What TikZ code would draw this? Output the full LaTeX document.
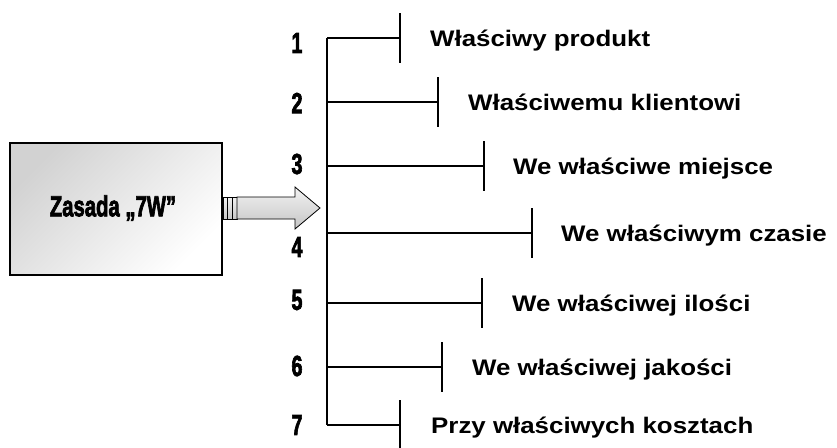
\documentclass[tikz,border=0pt]{standalone}
\usepackage{fontspec}
\setmainfont{Liberation Sans}
\newfontfamily\heavyfont[FakeBold=3]{Liberation Sans Bold}
\usepackage{graphicx}
\begin{document}
\begin{tikzpicture}[x=1pt,y=-1pt,
  conn/.style={line width=1.4pt, black},
  lbl/.style={anchor=base west, inner sep=0pt, font=\fontsize{22.5}{24}\selectfont\bfseries},
  num/.style={anchor=center, inner sep=0pt, font=\fontsize{29}{29}\selectfont\heavyfont},
  arrowfill/.style={draw=black, line width=0.8pt, top color=gray!10, bottom color=gray!45}]
\path[use as bounding box] (0,0) rectangle (837,447);
\clip (0,0) rectangle (837,447);
% source box
\node[draw, line width=2pt, minimum width=212pt, minimum height=132pt,
      top color=gray!35, bottom color=white, shading angle=45,
      inner sep=0pt] (box) at (116,209) {};
\node[num] (boxlbl) at (113,208) {\scalebox{0.7}[1]{Zasada „7W”}};
% striped arrow
\coordinate (a0) at (223,208);
\coordinate (tip) at (320,208);
\draw[arrowfill] (223,197) rectangle (227.5,219);
\draw[arrowfill] (227.5,197) rectangle (232,219);
\draw[arrowfill] (232,197) rectangle (237,219);
\draw[arrowfill] (237,197) -- (295,197) -- (295,187) -- (tip) -- (295,229) -- (295,219) -- (237,219) -- cycle;
% spine
\coordinate (top) at (327,38);
\coordinate (bot) at (327,425);
\draw[conn] (top) -- (bot);
\foreach \i/\y/\tx/\lx/\ny/\txt in {
  1/38/400/430/43/{Właściwy produkt},
  2/102/438/468/103/{Właściwemu klientowi},
  3/166/484/513/164/{We właściwe miejsce},
  4/233/532/561/247/{We właściwym czasie},
  5/303/482/512/300/{We właściwej ilości},
  6/367/442/472/366/{We właściwej jakości},
  7/425/400/431/425/{Przy właściwych kosztach}}{
  \coordinate (b\i) at (327,\y);
  \coordinate (t\i) at (\tx,\y);
  \coordinate (tu\i) at (\tx,\y-25);
  \coordinate (td\i) at (\tx,\y+25);
  \draw[conn] (b\i) -- (t\i);
  \draw[conn] (tu\i) -- (td\i);
  \node[lbl] (l\i) at (\lx,\y+8) {\scalebox{1.15}[1]{\txt}};
  \node[num] (n\i) at (297,\ny) {\scalebox{0.68}[1]{\i}};
}
\end{tikzpicture}
\end{document}
